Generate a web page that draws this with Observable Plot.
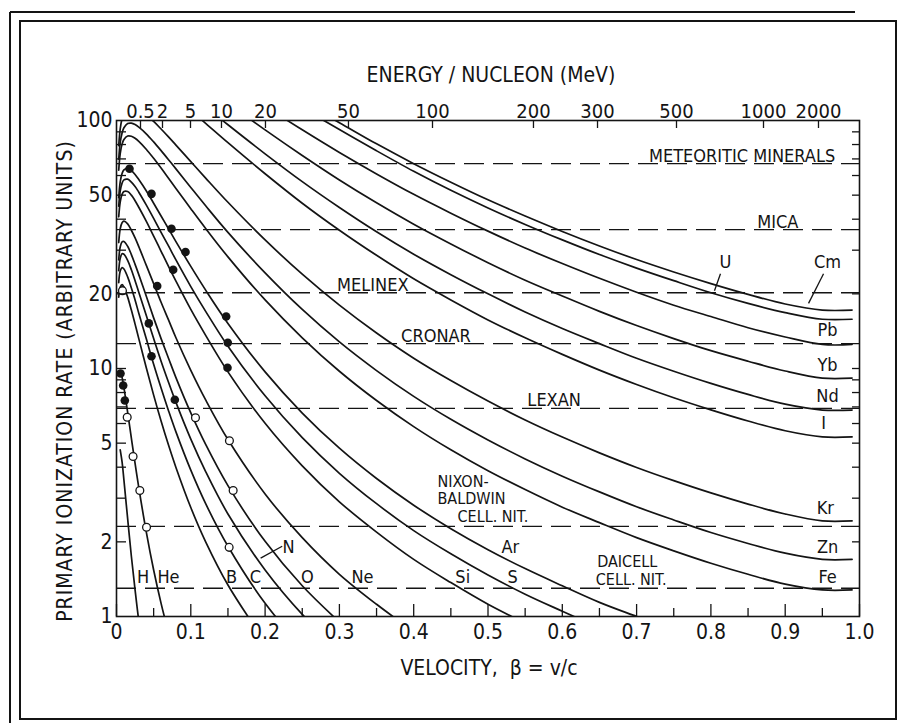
<!DOCTYPE html>
<html><head><meta charset="utf-8">
<script src="https://cdn.jsdelivr.net/npm/d3@7"></script>
<script src="https://cdn.jsdelivr.net/npm/@observablehq/plot@0.6"></script>
<style>
body{margin:0;background:#fff;}
#chart svg text{font-family:"Liberation Sans Narrow","DejaVu Sans Condensed","Arial Narrow",sans-serif;}
</style></head><body><div id="chart"></div>
<script>
// ---- data ----
const beta = [0.003,0.005,0.0075,0.01,0.015,0.02,0.025,0.03,0.04,0.05,0.06,0.07,0.08,0.1,0.12,0.15,0.2,0.25,0.3,0.35,0.4,0.45,0.5,0.55,0.6,0.65,0.7,0.75,0.8,0.85,0.9,0.95,0.99];
const _ = null;
const rateH  = [_,4.7,4.2,3.55,2.48,1.75,1.28,0.96,0.59];
const rateHe = [9.45,9.76,9.21,8.37,6.66,5.24,4.14,3.31,2.20,1.54,1.13,0.86];
const rateB  = [19.4,21.3,21.8,21.3,19.4,17.2,15.1,13.2,10.1,7.81,6.14,4.91,3.99,2.75,2.00,1.34,0.79];
const rateC  = [22.2,24.7,25.5,25.2,23.4,21.1,18.9,16.7,13.2,10.4,8.34,6.76,5.55,3.89,2.85,1.92,1.13,0.75];
const rateN  = [24.8,27.8,29.0,28.9,27.3,25.0,22.6,20.3,16.4,13.2,10.7,8.80,7.30,5.19,3.84,2.59,1.54,1.02,0.73];
const rateO  = [27.4,30.9,32.4,32.5,31.1,28.8,26.3,23.9,19.6,16.0,13.2,11.0,9.19,6.62,4.94,3.37,2.01,1.33,0.95];
const rateNe = [32.2,36.6,38.7,39.3,38.3,36.1,33.6,31.0,26.1,22.0,18.5,15.7,13.3,9.83,7.47,5.17,3.12,2.08,1.48,1.12,0.87];
const rateSi = [40.9,46.9,50.4,51.7,51.7,50.0,47.5,44.7,39.3,34.2,29.7,25.8,22.5,17.3,13.6,9.69,6.01,4.05,2.90,2.19,1.70,1.37,1.12,0.94];
const rateS  = [45.1,51.9,55.9,57.6,58.0,56.4,54.2,51.4,45.7,40.3,35.4,31.2,27.4,21.4,17.0,12.3,7.76,5.26,3.78,2.85,2.22,1.79,1.47,1.23,1.05,0.90];
const rateAr = [48.8,56.5,61.1,63.2,64.1,62.8,60.6,57.8,52.1,46.4,41.2,36.6,32.5,25.8,20.7,15.2,9.69,6.61,4.77,3.60,2.81,2.26,1.86,1.56,1.33,1.14,1.00,0.88];
const rateFe = [63.1,73.5,80.3,83.8,86.6,86.4,84.8,82.4,76.6,70.4,64.3,58.5,53.2,44.1,36.7,28.2,18.9,13.3,9.75,7.43,5.83,4.70,3.87,3.25,2.76,2.39,2.08,1.84,1.64,1.48,1.35,1.28,1.28];
const rateZn = [69.8,81.4,89.1,93.5,97.2,97.6,96.3,94.0,88.4,82.0,75.6,69.5,63.8,53.7,45.3,35.4,24.3,17.3,12.8,9.81,7.72,6.24,5.15,4.32,3.68,3.18,2.77,2.45,2.18,1.97,1.80,1.70,1.70];
const rateKr = [79.1,92.6,101.8,107.3,112.1,113.4,112.7,110.8,105.5,99.1,92.4,85.9,79.6,68.3,58.6,46.8,33.0,24.0,18.0,13.9,11.0,8.94,7.39,6.20,5.29,4.57,3.99,3.53,3.15,2.84,2.59,2.43,2.43];
const rateI  = [_,_,_,_,_,_,_,_,_,_,_,_,123.3,109.7,97.4,81.4,61.0,46.4,36.1,28.6,23.0,18.9,15.7,13.3,11.4,9.85,8.62,7.62,6.81,6.14,5.61,5.30,5.30];
const rateNd = [_,_,_,_,_,_,_,_,_,_,_,_,_,126.6,113.5,96.1,73.4,56.7,44.6,35.6,28.9,23.9,20.0,16.9,14.5,12.6,11.0,9.75,8.71,7.86,7.18,6.80,6.80];
const rateYb = [_,_,_,_,_,_,_,_,_,_,_,_,_,_,_,117.4,91.7,72.3,57.6,46.6,38.2,31.8,26.7,22.7,19.6,17.0,14.9,13.2,11.8,10.7,9.77,9.15,9.15];
const ratePb = [_,_,_,_,_,_,_,_,_,_,_,_,_,_,_,_,114.2,91.7,74.3,60.9,50.4,42.3,35.8,30.6,26.5,23.1,20.3,18.0,16.2,14.6,13.4,12.5,12.5];
const rateU  = [_,_,_,_,_,_,_,_,_,_,_,_,_,_,_,_,_,112.0,92.0,75.5,62.4,52.3,44.4,38.1,33.0,28.8,25.4,22.6,20.2,18.3,16.8,15.8,15.8];
const rateCm = [_,_,_,_,_,_,_,_,_,_,_,_,_,_,_,_,_,119.0,98.0,80.5,67.0,56.4,47.9,41.2,35.7,31.2,27.5,24.5,22.0,19.9,18.2,17.2,17.2];

const filledBeta = [0.0054,0.009,0.0112,0.0175,0.0471,0.074,0.0929,0.0763,0.0548,0.0435,0.0471,0.0785,0.1476,0.1498,0.1494];
const filledRate = [9.55,8.54,7.43,63.9,50.6,36.6,29.5,25.0,21.5,15.2,11.2,7.48,16.2,12.7,10.07];
const openBeta = [0.008,0.0144,0.0223,0.0314,0.0404,0.1063,0.152,0.157,0.1516];
const openRate = [20.6,6.36,4.42,3.22,2.29,6.33,5.11,3.22,1.90];

const thresholdRates = [67,36.3,20.2,12.6,6.9,2.31,1.30];

const yLabelValues = [1,2,5,10,20,50,100];
const yTickValues = [2,3,4,5,6,7,8,9,10,20,30,40,50,60,70,80,90];
const xLabelValues = [0,0.1,0.2,0.3,0.4,0.5,0.6,0.7,0.8,0.9,1.0];
const xMinorTicks = [0.05,0.15,0.25,0.35,0.45,0.55,0.65,0.75,0.85,0.95];
const energyLabels = ["0.5","2","5","10","20","50","100","200","300","500","1000","2000"];
const energyBeta = [0.0323,0.0619,0.0996,0.1413,0.2005,0.3122,0.4253,0.5612,0.6474,0.7537,0.8708,0.9448];

// ---- annotation placement ----
const elementLabels = [
  {t:"H",x:0.0357,y:1.44},{t:"He",x:0.070,y:1.44},{t:"B",x:0.155,y:1.44},{t:"C",x:0.187,y:1.44},
  {t:"N",x:0.2315,y:1.90},{t:"O",x:0.257,y:1.44},{t:"Ne",x:0.331,y:1.44},{t:"Si",x:0.466,y:1.44},
  {t:"S",x:0.533,y:1.44},{t:"Ar",x:0.530,y:1.90},
  {t:"U",x:0.8197,y:26.8},{t:"Cm",x:0.957,y:26.8},{t:"Pb",x:0.957,y:14.26},{t:"Yb",x:0.957,y:10.28},
  {t:"Nd",x:0.957,y:7.73},{t:"I",x:0.9516,y:6.0},{t:"Kr",x:0.954,y:2.73},{t:"Zn",x:0.957,y:1.91},{t:"Fe",x:0.957,y:1.44}
];
const leaders = [
  {x1:0.194,y1:1.72,x2:0.223,y2:1.92},
  {x1:0.8129,y1:24.1,x2:0.8048,y2:20.6},
  {x1:0.9516,y1:24.1,x2:0.9314,y2:18.3}
];
const detectorMid = [
  {t:"METEORITIC MINERALS",x:0.842,y:67},{t:"MICA",x:0.89,y:36.3},{t:"MELINEX",x:0.345,y:20.2},
  {t:"CRONAR",x:0.43,y:12.6},{t:"LEXAN",x:0.589,y:6.9}
];
const detectorStart = [
  {t:"NIXON-",x:0.432,y:3.50},{t:"BALDWIN",x:0.432,y:2.97},{t:"CELL. NIT.",x:0.459,y:2.52},
  {t:"DAICELL",x:0.647,y:1.66},{t:"CELL. NIT.",x:0.645,y:1.41}
];

const curves = {H:rateH,He:rateHe,B:rateB,C:rateC,N:rateN,O:rateO,Ne:rateNe,Si:rateSi,S:rateS,Ar:rateAr,
  Fe:rateFe,Zn:rateZn,Kr:rateKr,I:rateI,Nd:rateNd,Yb:rateYb,Pb:ratePb,U:rateU,Cm:rateCm};
const table = [];
for (const [el, rates] of Object.entries(curves)) {
  rates.forEach((r, i) => { if (r != null) table.push({element: el, beta: beta[i], rate: r}); });
}
const filled = filledBeta.map((b, i) => ({beta: b, rate: filledRate[i]}));
const open = openBeta.map((b, i) => ({beta: b, rate: openRate[i]}));
const energyMap = new Map(energyBeta.map((b, i) => [b, energyLabels[i]]));

const FONT = "'Liberation Sans Narrow','DejaVu Sans Condensed','Arial Narrow',sans-serif";
const frameW = 743, frameH = 496;
const ink = "#141414";

const chart = Plot.plot({
  width: 899, height: 723,
  marginLeft: 116, marginRight: 40, marginTop: 120, marginBottom: 107,
  style: {fontFamily: FONT, fontSize: "18px", background: "white", color: ink},
  x: {domain: [0, 1]},
  y: {type: "log", domain: [1, 100]},
  marks: [
    Plot.ruleY(thresholdRates, {y: d => d, stroke: ink, strokeWidth: 1.3, strokeDasharray: "20,9"}),
    Plot.line(table, {x: "beta", y: "rate", z: "element", stroke: ink, strokeWidth: 1.7, curve: "catmull-rom", clip: true}),
    Plot.dot(filled, {x: "beta", y: "rate", r: 4.3, fill: ink, stroke: "none"}),
    Plot.dot(open, {x: "beta", y: "rate", r: 3.9, fill: "white", stroke: ink, strokeWidth: 1.3}),
    Plot.frame({stroke: ink, strokeWidth: 1.6}),
    Plot.tickX(xLabelValues, {x: d => d, insetTop: frameH - 12, stroke: ink, strokeWidth: 1.3}),
    Plot.tickX(xMinorTicks, {x: d => d, insetTop: frameH - 8, stroke: ink, strokeWidth: 1.3}),
    Plot.tickX(energyBeta, {x: d => d, insetBottom: frameH - 8, stroke: ink, strokeWidth: 1.3}),
    Plot.tickY(yTickValues, {y: d => d, insetRight: frameW - 10, stroke: ink, strokeWidth: 1.3}),
    Plot.tickY(yTickValues, {y: d => d, insetLeft: frameW - 7, stroke: ink, strokeWidth: 1.3}),
    Plot.axisY({ticks: yLabelValues, tickSize: 0, tickPadding: 4, fontSize: 21, label: null, tickFormat: d => String(d)}),
    Plot.axisX({anchor: "bottom", ticks: xLabelValues, tickSize: 0, tickPadding: 8, fontSize: 21, label: null,
      tickFormat: d => d === 0 ? "0" : d.toFixed(1)}),
    Plot.axisX({anchor: "top", ticks: energyBeta, tickSize: 0, tickPadding: 3, fontSize: 20, label: null,
      tickFormat: d => energyMap.get(d)}),
    Plot.text(elementLabels, {x: "x", y: "y", text: "t", fontSize: 18, fill: ink, textAnchor: "middle"}),
    Plot.link(leaders, {x1: "x1", y1: "y1", x2: "x2", y2: "y2", stroke: ink, strokeWidth: 1.3}),
    Plot.text(detectorMid, {x: "x", y: "y", text: "t", fontSize: 18, fill: ink, textAnchor: "middle", lineAnchor: "bottom", dy: -2}),
    Plot.text(detectorStart, {x: "x", y: "y", text: "t", fontSize: 16, fill: ink, textAnchor: "start"})
  ]
});

const svg = d3.select(chart);
// figure border
svg.append("rect").attr("x", 20).attr("y", 21).attr("width", 876).attr("height", 698)
  .attr("fill", "none").attr("stroke", ink).attr("stroke-width", 2);
svg.append("line").attr("x1", 10).attr("y1", 12).attr("x2", 10).attr("y2", 723).attr("stroke", ink).attr("stroke-width", 2);
svg.append("line").attr("x1", 10).attr("y1", 12).attr("x2", 855).attr("y2", 12).attr("stroke", ink).attr("stroke-width", 2);
// titles
svg.append("text").attr("x", 491).attr("y", 82).attr("text-anchor", "middle")
  .attr("font-size", 21).attr("fill", ink).text("ENERGY / NUCLEON (MeV)");
svg.append("text").attr("x", 489).attr("y", 675).attr("text-anchor", "middle")
  .attr("font-size", 21).attr("fill", ink).text("VELOCITY,  β = v/c");
svg.append("text").attr("transform", "translate(72,381) rotate(-90)").attr("text-anchor", "middle")
  .attr("font-size", 21).attr("letter-spacing", 1).attr("fill", ink).text("PRIMARY IONIZATION RATE (ARBITRARY UNITS)");

document.getElementById("chart").append(chart);
</script>
</body></html>
